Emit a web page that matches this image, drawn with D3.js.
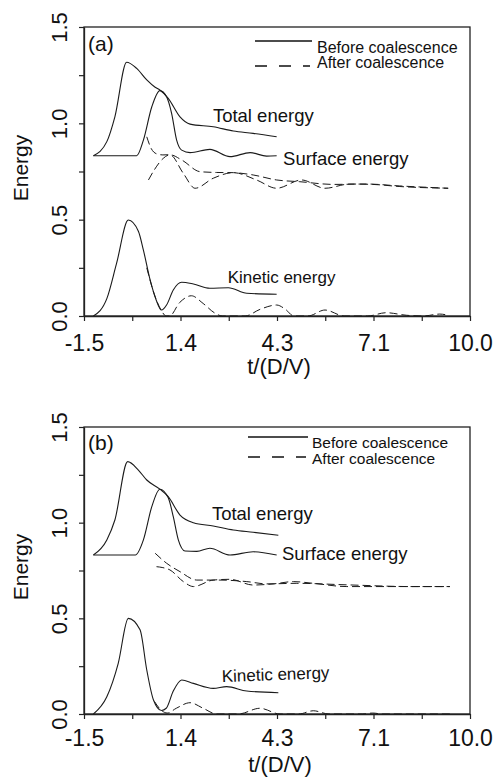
<!DOCTYPE html>
<html>
<head>
<meta charset="utf-8">
<script src="https://cdn.jsdelivr.net/npm/d3@7"></script>
<style>
  html, body { margin: 0; padding: 0; background: #fff; }
  svg { display: block; }
  text { font-family: "Liberation Sans", Arial, Helvetica, sans-serif; fill: #111; }
</style>
</head>
<body>
<svg id="chart" width="502" height="777"></svg>
<script>
// ---------- Data ----------
const xDomain = [-1.5, 10.0];
const yDomain = [0, 1.5];
const xTicks = [-1.5, -0.0625, 1.375, 2.8125, 4.25, 5.6875, 7.125, 8.5625, 10.0];
const xTickLabels = ["-1.5", "", "1.4", "", "4.3", "", "7.1", "", "10.0"];
const yTicks = [0, 0.25, 0.5, 0.75, 1.0, 1.25, 1.5];
const yTickLabels = ["0.0", "", "0.5", "", "1.0", "", "1.5"];
const xTitle = "t/(D/V)";
const yTitle = "Energy";
const legendLabels = ["Before coalescence", "After coalescence"];
const curveLabels = ["Total energy", "Surface energy", "Kinetic energy"];

// Panel (a)
const aTotalBefore = [[-1.22,0.832],[-0.82,0.905],[-0.58,1.034],[-0.23,1.317],[0.07,1.285],[0.37,1.225],[0.62,1.187],[0.76,1.173],[1.01,1.13],[1.36,1.034],[1.66,0.996],[2.35,0.982],[2.95,0.96],[3.54,0.948],[4.24,0.93]];
const aSurfaceBefore = [[-1.22,0.832],[0.07,0.832],[0.27,0.913],[0.52,1.086],[0.76,1.17],[0.96,1.138],[1.11,1.052],[1.26,0.913],[1.41,0.861],[1.66,0.848],[2.25,0.865],[2.85,0.827],[3.45,0.848],[3.94,0.83],[4.24,0.832]];
const aKineticBefore = [[-1.22,0],[-0.82,0.09],[-0.53,0.273],[-0.18,0.498],[0.12,0.44],[0.27,0.342],[0.47,0.187],[0.65,0.083],[0.81,0.031],[0.96,0.057],[1.16,0.135],[1.41,0.175],[1.76,0.166],[2.25,0.144],[2.8,0.147],[3.35,0.118],[4.24,0.113]];
const aTotalAfter = [[0.37,0.93],[0.5,0.87],[0.66,0.842],[0.85,0.836],[1.06,0.837],[1.41,0.81],[1.96,0.749],[2.45,0.745],[2.95,0.744],[3.54,0.732],[4.24,0.706],[4.93,0.697],[5.93,0.683],[6.92,0.685],[7.91,0.675],[9.35,0.663]];
const aSurfaceAfter = [[0.42,0.706],[0.6,0.76],[0.86,0.818],[1.06,0.837],[1.46,0.74],[1.81,0.663],[2.35,0.715],[2.95,0.744],[3.64,0.706],[4.24,0.663],[4.98,0.706],[5.68,0.663],[6.42,0.685],[7.1,0.683],[7.91,0.672],[9.35,0.663]];
const aKineticAfter = [[0.37,0.25],[0.6,0.11],[0.8,0.03],[0.95,0],[1.05,0],[1.35,0.07],[1.7,0.105],[2.05,0.065],[2.4,0.015],[2.62,0],[3.3,0],[3.75,0.035],[4.24,0.057],[4.5,0.035],[4.75,0],[5.17,0],[5.68,0.031],[6.25,0],[6.95,0],[7.5,0.017],[8.1,0.004],[8.6,0],[9.1,0.01],[9.35,0.004]];

// Panel (b)
const bTotalBefore = [[-1.22,0.831],[-0.82,0.91],[-0.58,1.014],[-0.2,1.319],[0.12,1.275],[0.37,1.223],[0.76,1.175],[1.01,1.136],[1.36,1.04],[1.76,1.0],[2.35,0.983],[2.95,0.962],[3.54,0.95],[4.29,0.934]];
const bSurfaceBefore = [[-1.22,0.831],[0.03,0.831],[0.27,0.91],[0.52,1.084],[0.76,1.175],[1.01,1.13],[1.16,1.031],[1.31,0.91],[1.51,0.852],[1.86,0.85],[2.25,0.866],[2.85,0.831],[3.54,0.848],[4.24,0.831]];
const bKineticBefore = [[-1.22,0],[-0.82,0.09],[-0.48,0.265],[-0.18,0.5],[0.17,0.44],[0.37,0.23],[0.57,0.073],[0.81,0.018],[0.95,0.03],[1.16,0.12],[1.41,0.178],[1.76,0.16],[2.35,0.134],[2.75,0.143],[3.35,0.12],[4.29,0.111]];
const bTotalAfter = [[0.62,0.84],[0.96,0.788],[1.36,0.744],[1.86,0.7],[2.55,0.7],[3.35,0.692],[3.94,0.68],[4.84,0.683],[6.33,0.675],[8.31,0.666],[9.4,0.666]];
const bSurfaceAfter = [[0.66,0.77],[0.85,0.765],[1.06,0.753],[1.46,0.692],[1.76,0.666],[2.35,0.7],[2.85,0.704],[3.54,0.674],[4.14,0.68],[4.74,0.692],[5.33,0.683],[6.33,0.666],[9.4,0.666]];
const bKineticAfter = [[0.6,0.065],[0.8,0.02],[0.98,0.005],[1.25,0.03],[1.66,0.059],[2.05,0.03],[2.45,0],[3.1,0],[3.74,0.03],[4.34,0],[4.9,0],[5.33,0.017],[5.8,0],[6.8,0],[7.1,0.005],[7.4,0],[9.4,0]];

// ---------- Drawing ----------
const svg = d3.select("#chart");
const LEFT = 84, RIGHT = 470;

function drawPanel(cfg) {
  const x = d3.scaleLinear().domain(xDomain).range([LEFT, RIGHT]);
  const y = d3.scaleLinear().domain(yDomain).range([cfg.bottom, cfg.top]);
  const g = svg.append("g");

  // frame
  g.append("rect")
    .attr("x", LEFT).attr("y", cfg.top)
    .attr("width", RIGHT - LEFT).attr("height", cfg.bottom - cfg.top)
    .attr("fill", "none").attr("stroke", "#222").attr("stroke-width", 1.3);

  // x axis
  const xAxis = d3.axisBottom(x).tickValues(xTicks)
    .tickFormat((d, i) => xTickLabels[i]).tickSize(5).tickSizeOuter(0);
  const gx = g.append("g").attr("transform", `translate(0,${cfg.bottom})`).call(xAxis);
  gx.select(".domain").attr("stroke", "#222").attr("stroke-width", 1.3);
  gx.selectAll(".tick line").attr("stroke", "#222").attr("stroke-width", 1.2);
  gx.selectAll(".tick text")
    .attr("y", cfg.xLabelDy).attr("dy", 0)
    .attr("font-size", 23).attr("fill", "#111")
    .attr("font-family", '"Liberation Sans", Arial, sans-serif');

  // y axis
  const yAxis = d3.axisLeft(y).tickValues(yTicks)
    .tickFormat((d, i) => yTickLabels[i]).tickSize(5).tickSizeOuter(0);
  const gy = g.append("g").attr("transform", `translate(${LEFT},0)`).call(yAxis);
  gy.select(".domain").attr("stroke", "#222").attr("stroke-width", 1.3);
  gy.selectAll(".tick line").attr("stroke", "#222").attr("stroke-width", 1.2);
  gy.selectAll(".tick text")
    .attr("x", 0).attr("y", -17).attr("dy", 0)
    .attr("text-anchor", "middle")
    .attr("transform", "rotate(-90)")
    .attr("font-size", 22).attr("fill", "#111")
    .attr("font-family", '"Liberation Sans", Arial, sans-serif');

  // axis titles
  g.append("text")
    .attr("transform", `translate(${cfg.yTitleX},${cfg.yTitleY}) rotate(-90)`)
    .attr("text-anchor", "middle").attr("font-size", 21).text(yTitle);
  g.append("text")
    .attr("x", cfg.xTitleX).attr("y", cfg.xTitleY)
    .attr("text-anchor", "middle").attr("font-size", 22).text(xTitle);

  // curves
  const line = d3.line().x(d => x(d[0])).y(d => y(d[1])).curve(d3.curveMonotoneX);
  const solid = [cfg.totalBefore, cfg.surfaceBefore, cfg.kineticBefore];
  const dashed = [cfg.totalAfter, cfg.surfaceAfter, cfg.kineticAfter];
  solid.forEach(s => g.append("path").attr("d", line(s))
    .attr("fill", "none").attr("stroke", "#1a1a1a").attr("stroke-width", 1.1));
  dashed.forEach(s => g.append("path").attr("d", line(s))
    .attr("fill", "none").attr("stroke", "#1a1a1a").attr("stroke-width", 1.0)
    .attr("stroke-dasharray", "8,4"));

  // panel letter
  g.append("text").attr("x", 88).attr("y", cfg.top + cfg.letterDy)
    .attr("font-size", 21).text(cfg.letter);

  // legend
  const L = cfg.legend;
  g.append("line").attr("x1", L.x1).attr("x2", L.x2)
    .attr("y1", cfg.top + L.solidDy).attr("y2", cfg.top + L.solidDy)
    .attr("stroke", "#111").attr("stroke-width", 1.4);
  g.append("text").attr("x", L.textX).attr("y", cfg.top + L.text1Dy)
    .attr("font-size", L.fs).text(legendLabels[0]);
  g.append("line").attr("x1", L.x1).attr("x2", L.x2 - 2)
    .attr("y1", cfg.top + L.dashDy).attr("y2", cfg.top + L.dashDy)
    .attr("stroke", "#111").attr("stroke-width", 1.4)
    .attr("stroke-dasharray", "12,12");
  g.append("text").attr("x", L.textX).attr("y", cfg.top + L.text2Dy)
    .attr("font-size", L.fs).text(legendLabels[1]);

  // curve annotations
  cfg.annot.forEach((a, i) => {
    g.append("text")
      .attr("transform", `translate(${x(a[0])},${y(a[1])}) rotate(${a[3] || 0})`)
      .attr("font-size", a[2]).text(curveLabels[i]);
  });
}

drawPanel({
  top: 27, bottom: 316, letter: "(a)", letterDy: 24,
  xLabelDy: 35, xTitleX: 279, xTitleY: 374, yTitleX: 28, yTitleY: 168,
  totalBefore: aTotalBefore, surfaceBefore: aSurfaceBefore, kineticBefore: aKineticBefore,
  totalAfter: aTotalAfter, surfaceAfter: aSurfaceAfter, kineticAfter: aKineticAfter,
  legend: { x1: 255, x2: 312, textX: 317, solidDy: 14, text1Dy: 25.5, dashDy: 39, text2Dy: 41, fs: 16 },
  annot: [[2.34, 1.007, 18.5], [4.43, 0.784, 18.5], [2.78, 0.171, 17]]
});

drawPanel({
  top: 427, bottom: 714, letter: "(b)", letterDy: 23,
  xLabelDy: 32, xTitleX: 280, xTitleY: 772, yTitleX: 28, yTitleY: 567,
  totalBefore: bTotalBefore, surfaceBefore: bSurfaceBefore, kineticBefore: bKineticBefore,
  totalAfter: bTotalAfter, surfaceAfter: bSurfaceAfter, kineticAfter: bKineticAfter,
  legend: { x1: 248, x2: 308, textX: 312, solidDy: 10, text1Dy: 20.5, dashDy: 30, text2Dy: 36.5, fs: 15.5 },
  annot: [[2.31, 1.014, 18.5], [4.4, 0.805, 18.5], [2.61, 0.167, 17, -2]]
});
</script>
</body>
</html>
